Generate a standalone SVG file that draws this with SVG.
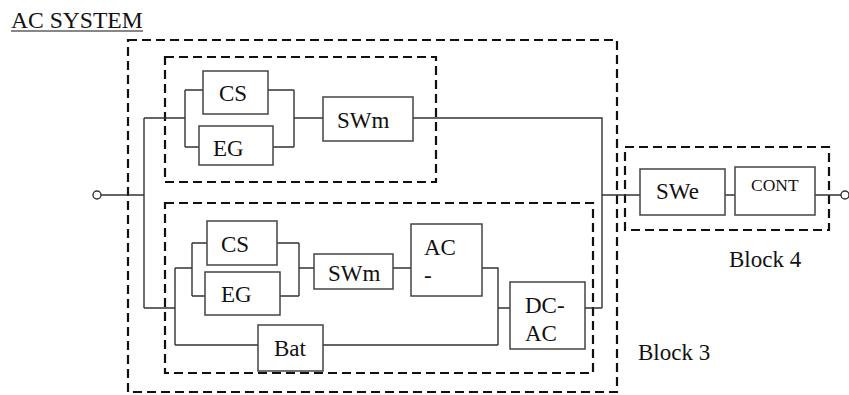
<svg xmlns="http://www.w3.org/2000/svg" width="849" height="395" viewBox="0 0 849 395">
<style>
.dash{fill:none;stroke:#111;stroke-width:2.2;stroke-dasharray:9 5}
.box{fill:#fff;stroke:#444;stroke-width:1.5}
.wire{fill:none;stroke:#333;stroke-width:1.4}
text{font-family:"Liberation Serif","Times New Roman",serif;font-size:23px;fill:#111}
.small{font-size:17.5px}
</style>
<rect width="849" height="395" fill="#fff"/>
<text x="11" y="28" style="font-size:23.6px">AC SYSTEM</text>
<line x1="11" y1="31" x2="143" y2="31" stroke="#111" stroke-width="1.2"/>
<g id="blocks">
<rect id="block-outer" class="dash" x="128" y="40" width="489" height="352"/>
<rect id="block-top" class="dash" x="165" y="57" width="271" height="125"/>
<rect id="block-3" class="dash" x="165" y="203" width="428" height="170"/>
<rect id="block-4" class="dash" x="625" y="147" width="204" height="83"/>
</g>
<g id="connectors">
<circle cx="97" cy="195" r="4" fill="#fff" stroke="#333" stroke-width="1.4"/>
<circle cx="845" cy="195" r="4" fill="#fff" stroke="#333" stroke-width="1.4"/>
<path class="wire" d="M101 195H144M144 118V308M144 118H185M185 90V147M185 90H203M185 147H199M268 90H294M273 147H294M294 90V147M294 118H323M413 118H602V308M602 195H640M725 195H735M815 195H841"/>
<path class="wire" d="M144 308H175M175 268V345M175 268H192M192 243V296M192 243H207M192 296H205M277 243H299M280 296H299M299 243V296M299 268H314M393 268H411M482 268H498V345M498 308H510M585 308H602M175 345H258M323 345H498"/>
</g>
<g id="cs1"><rect class="box" x="203" y="71" width="65" height="43"/><text x="219" y="101">CS</text></g>
<g id="eg1"><rect class="box" x="199" y="126" width="74" height="39"/><text x="213" y="156">EG</text></g>
<g id="swm1"><rect class="box" x="323" y="97" width="90" height="44"/><text x="337" y="128">SWm</text></g>
<g id="cs2"><rect class="box" x="207" y="221" width="70" height="44"/><text x="221" y="252">CS</text></g>
<g id="eg2"><rect class="box" x="205" y="272" width="75" height="43"/><text x="221" y="302">EG</text></g>
<g id="swm2"><rect class="box" x="314" y="254" width="79" height="35"/><text x="328" y="281">SWm</text></g>
<g id="acdc"><rect class="box" x="411" y="224" width="71" height="72"/><text x="424" y="255">AC</text><text x="424" y="283">-</text></g>
<g id="dcac"><rect class="box" x="510" y="282" width="75" height="67"/><text x="525" y="313">DC-</text><text x="525" y="341">AC</text></g>
<g id="bat"><rect class="box" x="258" y="325" width="65" height="46"/><text x="274" y="356">Bat</text></g>
<g id="swe"><rect class="box" x="640" y="169" width="85" height="46"/><text x="656" y="199">SWe</text></g>
<g id="cont"><rect class="box" x="735" y="167" width="80" height="48"/><text class="small" x="751" y="191">CONT</text></g>
<text x="729" y="267">Block 4</text>
<text x="638" y="360">Block 3</text>
</svg>
